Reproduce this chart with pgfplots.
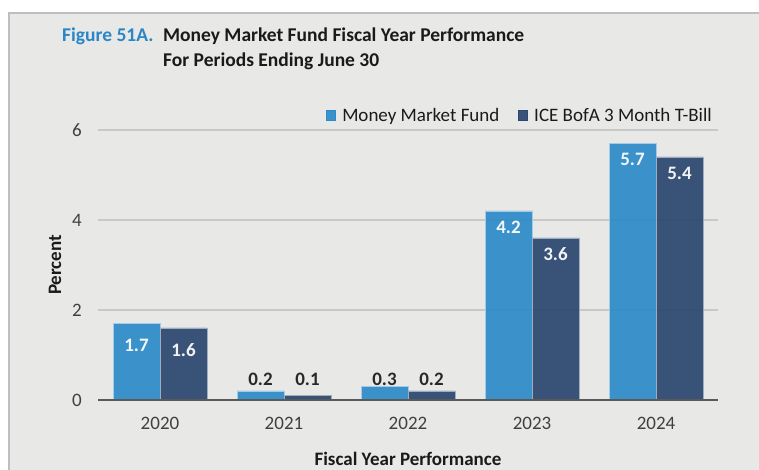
\documentclass[border=0pt]{standalone}
\usepackage{pgfplots}
\pgfplotsset{compat=1.18}
\usepackage{fontspec}
\setmainfont{Carlito}
\definecolor{bgc}{HTML}{E8E8E7}
\definecolor{framec}{HTML}{BEBEBE}
\definecolor{mmf}{HTML}{2E8BC8}
\definecolor{ice}{HTML}{2C4870}
\definecolor{gridc}{HTML}{C8C8C8}
\definecolor{axisc}{HTML}{595959}
\definecolor{tickc}{HTML}{404040}
\definecolor{titleblue}{HTML}{2A86C6}
\definecolor{titletext}{HTML}{1A1A1A}
\newcommand{\fs}{\fontsize{19bp}{23bp}\selectfont}
\newcommand{\fst}{\fontsize{19.5bp}{23bp}\selectfont}
\begin{document}
\begin{tikzpicture}[x=1bp,y=1bp,font=\fs]
\useasboundingbox (0,0) rectangle (759,470);
\fill[white] (0,0) rectangle (759,470);
\fill[bgc] (9,0) rectangle (759,457);
\draw[framec,line width=2bp] (9,0) -- (9,457) -- (759,457);
\node[anchor=base west,inner sep=0pt,text=titleblue,font=\fst\bfseries] at (62,428) {Figure 51A.};
\node[anchor=base west,inner sep=0pt,text=titletext,font=\fst\bfseries] at (163,428) {Money Market Fund Fiscal Year Performance};
\node[anchor=base west,inner sep=0pt,text=titletext,font=\fst\bfseries] at (163,403) {For Periods Ending June 30};
\begin{axis}[
  at={(98bp,70bp)}, anchor=south west, scale only axis,
  width=620bp, height=270bp,
  xmin=-0.5, xmax=4.5, ymin=0, ymax=6,
  clip=false,
  /pgf/number format/assume math mode=true,
  xtick={0,1,2,3,4}, xticklabels={2020,2021,2022,2023,2024},
  ytick={0,2,4,6},
  axis line style={draw=none},
  major tick length=0pt,
  ymajorgrids, grid style={gridc, line width=2bp},
  tick label style={text=tickc, font=\fs},
  yticklabel style={anchor=east, inner sep=0pt, xshift=-16bp},
  xticklabel style={anchor=north, inner sep=0pt, yshift=-17bp},
  ylabel={Percent},
  ylabel style={at={(axis description cs:-0.0694,0.5)}, anchor=center, font=\fs\bfseries, text=titletext},
  xlabel={Fiscal Year Performance},
  xlabel style={at={(axis description cs:0.5,0)}, anchor=base, yshift=-66bp, font=\fs\bfseries, text=titletext},
  ybar, bar width=47bp,
  nodes near coords={\ifdim\isout pt>0.5pt\color{titletext}\else\color{white}\fi\pgfmathprintnumber[fixed,fixed zerofill,precision=1]{\pgfplotspointmeta}},
  visualization depends on={ifthenelse(y<1,1,0) \as \isout},
  visualization depends on={ifthenelse(y<1,20.5-45*y,ifthenelse(y<2,-22,-16)) \as \dy},
  every node near coord/.append style={anchor=center, yshift=\dy bp, inner sep=0pt, font=\fs\bfseries},
  legend style={at={(0.9903,1.0519)}, anchor=east, draw=none, fill=none,
    inner sep=0pt, legend columns=2,
    nodes={inner sep=0pt, text=titletext, font=\fs},
    /tikz/every odd column/.append style={column sep=6bp},
    /tikz/every even column/.append style={column sep=19bp}},
]
\addplot[fill=mmf, draw=white!55!mmf, line width=0.8bp, fill opacity=0.93, bar shift=-23.5bp,
  legend image code/.code={\fill[mmf] (0bp,-4.5bp) rectangle (9bp,5.5bp);}]
  coordinates {(0,1.7) (1,0.2) (2,0.3) (3,4.2) (4,5.7)};
\addlegendentry{Money Market Fund}
\addplot[fill=ice, draw=white!55!ice, line width=0.8bp, fill opacity=0.93, bar shift=23.5bp,
  legend image code/.code={\fill[ice] (0bp,-4.5bp) rectangle (9bp,5.5bp);}]
  coordinates {(0,1.6) (1,0.1) (2,0.2) (3,3.6) (4,5.4)};
\addlegendentry{ICE BofA 3 Month T-Bill}
\draw[axisc, line width=2.5bp] (axis cs:-0.5,0) -- (axis cs:4.5,0);
\end{axis}
\end{tikzpicture}
\end{document}
